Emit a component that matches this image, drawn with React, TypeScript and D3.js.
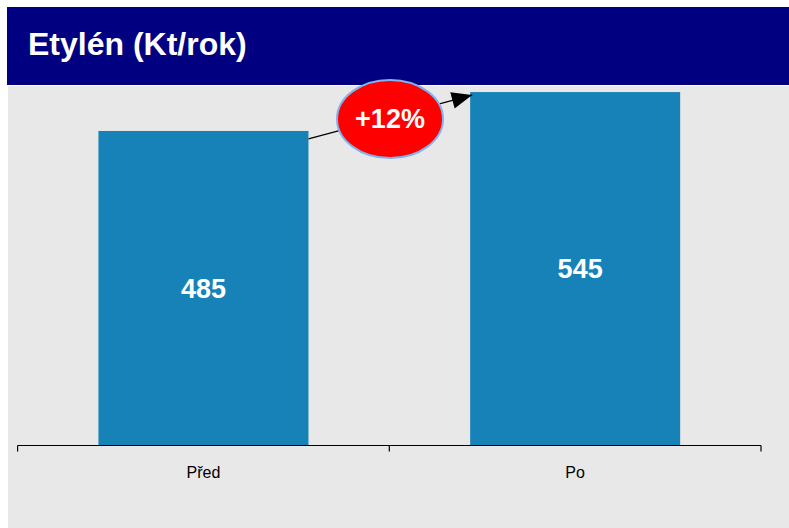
import React from "react";
import * as d3 from "d3";

const categories = ["Před", "Po"];
const values = [485, 545];
const changeLabel = "+12%";
const title = "Etylén (Kt/rok)";

const W = 789;
const H = 528;

export default function App() {
  const x = d3.scaleBand<string>().domain(categories).range([17.6, 761]).paddingInner(0.435).paddingOuter(0.2175);
  const baseY = 445.5;
  const y = d3.scaleLinear().domain([0, 600]).range([baseY, baseY - 600 * 0.6485]);
  const bw = x.bandwidth();
  const step = x.step();
  const axisStart = 17.6;
  const axisEnd = 761;
  const ticks = [axisStart, axisStart + step, axisEnd];

  const x0 = (x(categories[0]) ?? 0) + bw;
  const y0 = y(values[0]) + 8;
  const x1 = x(categories[1]) ?? 0;
  const y1 = y(values[1]) + 3;
  const ex = 390;
  const ey = 119;

  return (
    <svg width={W} height={H} style={{ position: "absolute", left: 0, top: 0 }}>
      <defs>
        <marker id="arrh" viewBox="0 0 12 10" refX="12" refY="5" markerWidth="21" markerHeight="17" markerUnits="userSpaceOnUse" orient="auto">
          <path d="M0,0 L12,5 L0,10 z" fill="#000" />
        </marker>
      </defs>
      <rect x={0} y={0} width={W} height={H} fill="#fff" />
      <rect x={8} y={86} width={781} height={442} fill="#e8e8e8" />
      <rect x={7} y={7} width={782} height={78} fill="#000080" />
      <text x={28} y={55} fill="#fff" fontFamily="Liberation Sans, Arial, sans-serif" fontWeight="bold" fontSize={32}>
        {title}
      </text>

      {categories.map((c, i) => (
        <g key={c}>
          <rect x={x(c)} y={y(values[i])} width={bw} height={baseY - y(values[i])} fill="#1782b8" />
          <text
            x={(x(c) ?? 0) + bw / 2 + (i === 1 ? 5 : 0)}
            y={(y(values[i]) + baseY) / 2}
            dy="0.35em"
            textAnchor="middle"
            fill="#fff"
            fontFamily="Liberation Sans, Arial, sans-serif"
            fontWeight="bold"
            fontSize={27}
          >
            {values[i]}
          </text>
          <text
            x={(x(c) ?? 0) + bw / 2}
            y={478}
            textAnchor="middle"
            fill="#000"
            fontFamily="Liberation Sans, Arial, sans-serif"
            fontSize={16}
          >
            {c}
          </text>
        </g>
      ))}

      <line x1={axisStart} x2={axisEnd} y1={baseY} y2={baseY} stroke="#000" strokeWidth={1.2} />
      {ticks.map((t, i) => (
        <line key={i} x1={t} x2={t} y1={baseY} y2={baseY + 6} stroke="#000" strokeWidth={1.2} />
      ))}

      <line x1={x0} y1={y0} x2={x1 + 2} y2={y1} stroke="#000" strokeWidth={1.3} markerEnd="url(#arrh)" />
      <ellipse cx={ex} cy={ey} rx={53} ry={39} fill="#ff0000" stroke="#7fb2ee" strokeWidth={2} />
      <text x={ex} y={ey} dy="0.35em" textAnchor="middle" fill="#fff" fontFamily="Liberation Sans, Arial, sans-serif" fontWeight="bold" fontSize={27}>
        {changeLabel}
      </text>
    </svg>
  );
}
